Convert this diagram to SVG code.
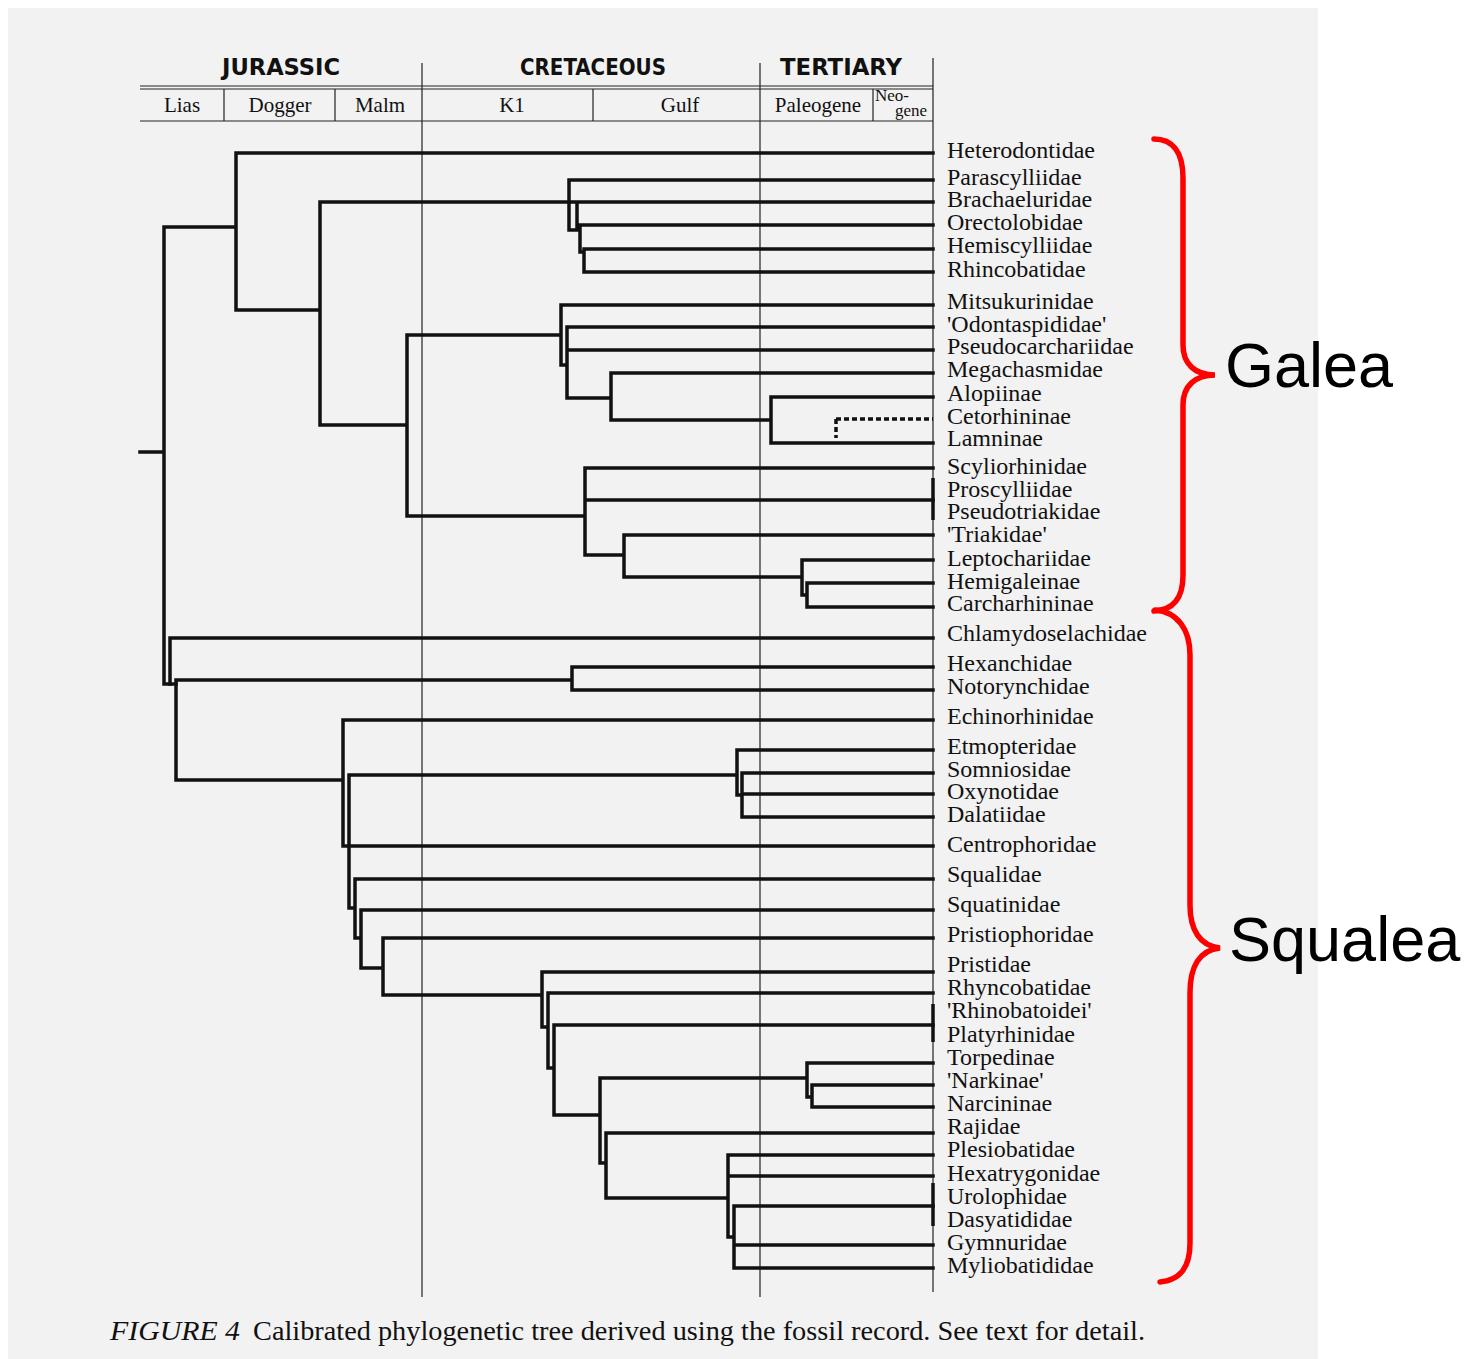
<svg xmlns="http://www.w3.org/2000/svg" width="1466" height="1359" viewBox="0 0 1466 1359">
<style>
.br{stroke:#111;stroke-width:3.5;fill:none;stroke-linecap:square}
.dot{stroke:#111;stroke-width:3.5;fill:none;stroke-dasharray:5 3}
.bk{stroke:#111;stroke-width:3.5;fill:none}
.thin{stroke:#222;stroke-width:1.2;fill:none}
.tx{font-family:"Liberation Serif","Times New Roman",serif;font-size:24px;fill:#111}
.hd{font-family:"DejaVu Sans Condensed","DejaVu Sans",sans-serif;font-weight:bold;font-size:23px;fill:#111}
.sub{font-family:"Liberation Serif","Times New Roman",serif;font-size:21px;fill:#111;text-anchor:middle}
.sm{font-family:"Liberation Serif","Times New Roman",serif;font-size:17px;fill:#111}
.big{font-family:"Liberation Sans",Arial,sans-serif;font-size:63px;fill:#000}
.brace{stroke:#ff0000;stroke-width:5.5;fill:none;stroke-linecap:round}
.cap{font-family:"Liberation Serif","Times New Roman",serif;font-size:27px;fill:#111}
</style>
<rect x="0" y="0" width="1466" height="1359" fill="#ffffff"/>
<rect x="8" y="8" width="1310" height="1351" fill="#f2f2f2"/>

<g id="timescale">
<path class="thin" d="M140,86H933M140,89H933M140,121H933M224,89V121M335,89V121M593,89V121M873,89V121M422,63V1297M760,63V1297M933,58V1292"/>
<text class="hd" x="222" y="75" textLength="118" lengthAdjust="spacingAndGlyphs">JURASSIC</text>
<text class="hd" x="520" y="75" textLength="146" lengthAdjust="spacingAndGlyphs">CRETACEOUS</text>
<text class="hd" x="780" y="75" textLength="122" lengthAdjust="spacingAndGlyphs">TERTIARY</text>
<text class="sub" x="182" y="112">Lias</text>
<text class="sub" x="280" y="112">Dogger</text>
<text class="sub" x="380" y="112">Malm</text>
<text class="sub" x="512" y="112">K1</text>
<text class="sub" x="680" y="112">Gulf</text>
<text class="sub" x="818" y="112">Paleogene</text>
<text class="sm" x="875" y="101">Neo-</text>
<text class="sm" x="895" y="116">gene</text>
</g>

<g id="connectors">
<path class="br" d="M140,452H164M164,227V684H176M164,227H236M236,153V310H320M236,153H933M320,202V425H407M320,202H933
M569,180V230H580M569,180H933M577,202V230M580,225V252H584M580,225H933M584,249V272M584,249H933M584,272H933
M407,335V516M407,335H561M561,305V365H567M561,305H933M567,327V398H611M567,327H933M567,350H933
M611,373V420H771M611,373H933M771,397V443M771,397H933M771,443H933
M407,516H585M585,468V555H624M585,468H933M585,500H933M624,535V577H802M624,535H933
M802,560V595H807M802,560H933M807,583V607M807,583H933M807,607H933"/>
<path class="dot" d="M836,419H933M836,419V438"/>
<path class="br" d="M170,638V684M170,638H933M176,680V780H343M176,680H572M572,667V690M572,667H933M572,690H933
M343,720V846M343,720H933M343,846H933M349,775V908H355M349,775H737
M737,750V795H742M737,750H933M742,773V817M742,773H933M742,794H933M742,817H933
M355,879V938H361M355,879H933M361,910V968H383M361,910H933M383,938V995H542M383,938H933
M542,972V1027H548M542,972H933M548,993V1068H554M548,993H933M554,1025V1115H600M554,1025H933
M600,1078V1163H606M600,1078H807M807,1063V1097H812M807,1063H933M812,1085V1107M812,1085H933M812,1107H933
M606,1133V1198H728M606,1133H933M728,1155V1237H734M728,1155H933M728,1176H933
M734,1206V1268M734,1206H933M734,1245H933M734,1268H933"/>
<path class="bk" d="M933,478V520M933,1004V1042M933,1183V1226"/>
</g>

<g id="taxa">
<g id="t01"><text class="tx" x="947" y="158">Heterodontidae</text></g>
<g id="t02"><text class="tx" x="947" y="185">Parascylliidae</text></g>
<g id="t03"><text class="tx" x="947" y="207">Brachaeluridae</text></g>
<g id="t04"><text class="tx" x="947" y="230">Orectolobidae</text></g>
<g id="t05"><text class="tx" x="947" y="253">Hemiscylliidae</text></g>
<g id="t06"><text class="tx" x="947" y="277">Rhincobatidae</text></g>
<g id="t07"><text class="tx" x="947" y="309">Mitsukurinidae</text></g>
<g id="t08"><text class="tx" x="947" y="332">'Odontaspididae'</text></g>
<g id="t09"><text class="tx" x="947" y="354">Pseudocarchariidae</text></g>
<g id="t10"><text class="tx" x="947" y="377">Megachasmidae</text></g>
<g id="t11"><text class="tx" x="947" y="401">Alopiinae</text></g>
<g id="t12"><text class="tx" x="947" y="424">Cetorhininae</text></g>
<g id="t13"><text class="tx" x="947" y="446">Lamninae</text></g>
<g id="t14"><text class="tx" x="947" y="474">Scyliorhinidae</text></g>
<g id="t15"><text class="tx" x="947" y="497">Proscylliidae</text></g>
<g id="t16"><text class="tx" x="947" y="519">Pseudotriakidae</text></g>
<g id="t17"><text class="tx" x="947" y="542">'Triakidae'</text></g>
<g id="t18"><text class="tx" x="947" y="566">Leptochariidae</text></g>
<g id="t19"><text class="tx" x="947" y="589">Hemigaleinae</text></g>
<g id="t20"><text class="tx" x="947" y="611">Carcharhininae</text></g>
<g id="t21"><text class="tx" x="947" y="641">Chlamydoselachidae</text></g>
<g id="t22"><text class="tx" x="947" y="671">Hexanchidae</text></g>
<g id="t23"><text class="tx" x="947" y="694">Notorynchidae</text></g>
<g id="t24"><text class="tx" x="947" y="724">Echinorhinidae</text></g>
<g id="t25"><text class="tx" x="947" y="754">Etmopteridae</text></g>
<g id="t26"><text class="tx" x="947" y="777">Somniosidae</text></g>
<g id="t27"><text class="tx" x="947" y="799">Oxynotidae</text></g>
<g id="t28"><text class="tx" x="947" y="822">Dalatiidae</text></g>
<g id="t29"><text class="tx" x="947" y="852">Centrophoridae</text></g>
<g id="t30"><text class="tx" x="947" y="882">Squalidae</text></g>
<g id="t31"><text class="tx" x="947" y="912">Squatinidae</text></g>
<g id="t32"><text class="tx" x="947" y="942">Pristiophoridae</text></g>
<g id="t33"><text class="tx" x="947" y="972">Pristidae</text></g>
<g id="t34"><text class="tx" x="947" y="995">Rhyncobatidae</text></g>
<g id="t35"><text class="tx" x="947" y="1018">'Rhinobatoidei'</text></g>
<g id="t36"><text class="tx" x="947" y="1042">Platyrhinidae</text></g>
<g id="t37"><text class="tx" x="947" y="1065">Torpedinae</text></g>
<g id="t38"><text class="tx" x="947" y="1088">'Narkinae'</text></g>
<g id="t39"><text class="tx" x="947" y="1111">Narcininae</text></g>
<g id="t40"><text class="tx" x="947" y="1134">Rajidae</text></g>
<g id="t41"><text class="tx" x="947" y="1157">Plesiobatidae</text></g>
<g id="t42"><text class="tx" x="947" y="1181">Hexatrygonidae</text></g>
<g id="t43"><text class="tx" x="947" y="1204">Urolophidae</text></g>
<g id="t44"><text class="tx" x="947" y="1227">Dasyatididae</text></g>
<g id="t45"><text class="tx" x="947" y="1250">Gymnuridae</text></g>
<g id="t46"><text class="tx" x="947" y="1273">Myliobatididae</text></g>
</g>

<g id="galea">
<path class="brace" d="M1154,139C1172,139 1183,151 1183,178L1183,345C1183,364 1195,375 1215,375C1195,375 1183,386 1183,405L1183,575C1183,599 1173,610 1154,611"/>
<text class="big" x="1225" y="387">Galea</text>
</g>
<g id="squalea">
<path class="brace" d="M1155,610C1178,612 1190,630 1190,655L1190,905C1190,930 1200,946 1220,948C1200,950 1190,966 1190,993L1190,1243C1190,1268 1180,1280 1160,1282"/>
<text class="big" x="1229" y="961">Squalea</text>
</g>

<g id="caption">
<text class="cap" x="110" y="1340" font-style="italic" textLength="130" lengthAdjust="spacingAndGlyphs">FIGURE 4</text>
<text class="cap" x="253" y="1340" textLength="892" lengthAdjust="spacingAndGlyphs">Calibrated phylogenetic tree derived using the fossil record. See text for detail.</text>
</g>
</svg>
